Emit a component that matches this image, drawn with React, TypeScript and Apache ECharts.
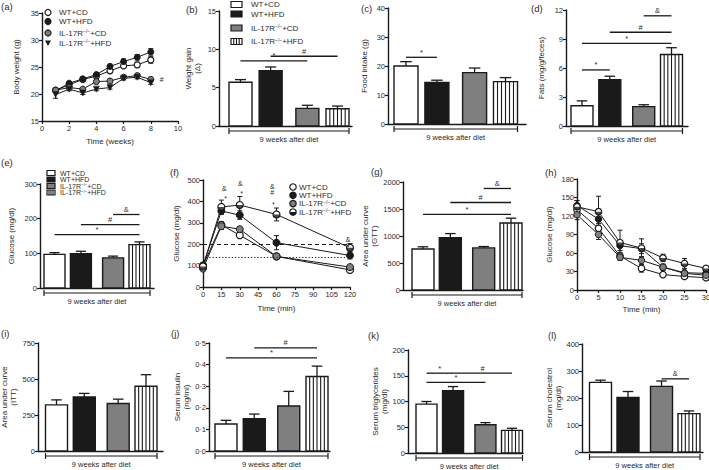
import React, { useEffect, useRef } from 'react';
import * as echarts from 'echarts';

const FONT = '"Liberation Sans", Arial, Helvetica, sans-serif';
const INK = '#1a1a1a';
const TXT = '#2a2a2a';
const GREY = '#7f7f7f';

const GROUPS = ['WT+CD', 'WT+HFD', 'IL-17R−/−+CD', 'IL-17R−/−+HFD'];
const BRACKET_LABEL = '9 weeks after diet';

// (a) body weight
const A_WEEKS = [1, 2, 3, 4, 5, 6, 7, 8];
const A_WT_CD = [20.7, 21.7, 22.7, 23.3, 24.3, 25.2, 25.4, 26.3];
const A_WT_CD_ERR = [0.3, 0.3, 0.3, 0.4, 0.4, 0.4, 0.5, 0.6];
const A_WT_HFD = [20.6, 22.0, 22.8, 23.6, 25.1, 26.0, 26.8, 27.8];
const A_WT_HFD_ERR = [0.3, 0.3, 0.3, 0.3, 0.4, 0.5, 0.5, 0.6];
const A_KO_CD = [20.7, 21.2, 20.9, 22.3, 22.4, 23.1, 23.4, 22.7];
const A_KO_CD_ERR = [0.3, 0.3, 0.3, 0.4, 0.4, 0.3, 0.3, 0.4];
const A_KO_HFD = [19.9, 20.9, 20.2, 20.9, 21.2, 22.9, 23.1, 22.1];
const A_KO_HFD_ERR = [0.7, 0.3, 0.3, 0.3, 0.3, 0.3, 0.3, 0.3];
const A_MARK = [[8.65, 22.6, '#']];

// bar panels: values, errors, significance [from, to, y, label]
const B_VALUES = [5.7, 7.2, 2.3, 2.25];
const B_ERR = [0.35, 0.5, 0.4, 0.35];
const B_SIG = [[0, 2, 8.5, '*'], [1, 3, 9.1, '#']];

const C_VALUES = [20.0, 14.3, 17.7, 14.6];
const C_ERR = [1.5, 0.8, 1.6, 1.4];
const C_SIG = [[0, 1, 23, '*']];

const D_VALUES = [2.1, 4.8, 2.0, 7.4];
const D_ERR = [0.5, 0.35, 0.2, 0.7];
const D_SIG = [[0, 1, 5.8, '*'], [0, 3, 8.55, '*'], [1, 3, 9.7, '#'], [2, 3, 11.4, '&']];

const E_VALUES = [97, 99, 87, 125];
const E_ERR = [5, 7, 5, 8];
const E_SIG = [[0, 3, 154, '*'], [1, 3, 183, '#'], [2, 3, 212, '&']];

// (f) GTT
const F_TIME = [0, 15, 30, 60, 120];
const F_WT_CD = [100, 290, 242, 143, 80];
const F_WT_CD_ERR = [8, 15, 12, 8, 8];
const F_WT_HFD = [100, 355, 336, 207, 147];
const F_WT_HFD_ERR = [8, 15, 20, 33, 15];
const F_KO_CD = [86, 284, 270, 143, 93];
const F_KO_CD_ERR = [8, 15, 12, 8, 8];
const F_KO_HFD = [96, 374, 383, 339, 183];
const F_KO_HFD_ERR = [8, 32, 40, 30, 20];
const F_MARKS = [
  [17.5, 462, '&'], [18.5, 413, '*'],
  [30.5, 484, '&'], [31.5, 439, '*'],
  [56.5, 468, '&'], [56.5, 440, '#'], [57.5, 385, '*'],
  [118.5, 220, '&'], [118.5, 183, '*'],
];
const F_LIMITS = [200, 140];

const G_VALUES = [760, 970, 780, 1240];
const G_ERR = [40, 75, 25, 90];
const G_SIG = [[0, 3, 1400, '*'], [1, 3, 1620, '#'], [2, 3, 1880, '&']];

// (h) ITT
const H_TIME = [0, 5, 10, 15, 20, 25, 30];
const H_WT_CD = [130, 100, 55, 35, 25, 22, 20];
const H_WT_CD_ERR = [10, 8, 6, 6, 3, 3, 3];
const H_WT_HFD = [137, 115, 72, 67, 37, 28, 27];
const H_WT_HFD_ERR = [8, 10, 8, 8, 5, 4, 3];
const H_KO_CD = [122, 90, 53, 48, 37, 27, 24];
const H_KO_CD_ERR = [8, 8, 5, 6, 4, 3, 3];
const H_KO_HFD = [135, 127, 77, 68, 52, 43, 35];
const H_KO_HFD_ERR = [10, 25, 20, 15, 6, 8, 3];

const I_VALUES = [320, 375, 330, 450];
const I_ERR = [35, 25, 30, 80];
const I_SIG: any[] = [];

const J_VALUES = [0.125, 0.15, 0.208, 0.345];
const J_ERR = [0.017, 0.021, 0.068, 0.048];
const J_SIG = [[0, 3, 0.431, '*'], [1, 3, 0.477, '#']];

const K_VALUES = [95, 121, 55, 44];
const K_ERR = [5, 8, 4, 4];
const K_SIG = [[0, 1, 155, '*'], [1, 3, 155, '#'], [0, 2, 137, '*']];

const L_VALUES = [258, 202, 243, 142];
const L_ERR = [8, 22, 20, 10];
const L_SIG = [[2, 3, 271, '&']];

// layout: bar slot positions (gap between genotypes)
const SLOT = [0, 1, 2.22, 3.22];

function barRender(barW: number) {
  return (params: any, api: any) => {
    const i = params.dataIndex;
    const x = api.value(0);
    const v = api.value(1);
    const e = api.value(2);
    const base = api.coord([x, 0]);
    const top = api.coord([x, v]);
    const hi = api.coord([x, v + e]);
    const left = base[0] - barW / 2;
    const fills = ['#ffffff', INK, GREY, '#ffffff'];
    const ch: any[] = [];
    ch.push({ type: 'line', shape: { x1: base[0], y1: top[1], x2: base[0], y2: hi[1] }, style: { stroke: INK, lineWidth: 1.3 } });
    ch.push({ type: 'line', shape: { x1: base[0] - barW * 0.24, y1: hi[1], x2: base[0] + barW * 0.24, y2: hi[1] }, style: { stroke: INK, lineWidth: 1.3 } });
    ch.push({ type: 'rect', shape: { x: left, y: top[1], width: barW, height: base[1] - top[1] }, style: { fill: fills[i], stroke: INK, lineWidth: 1.4 } });
    if (i === 3) {
      const n = 5;
      const step = barW / (n + 1);
      for (let k = 1; k <= n; k++) {
        const sx = left + step * k;
        ch.push({ type: 'line', shape: { x1: sx, y1: top[1], x2: sx, y2: base[1] }, style: { stroke: INK, lineWidth: 1.1 } });
      }
    }
    return { type: 'group', children: ch };
  };
}

function sigRender(sig: any[]) {
  return (params: any, api: any) => {
    const p1 = api.coord([api.value(0), api.value(2)]);
    const p2 = api.coord([api.value(1), api.value(2)]);
    return {
      type: 'group',
      children: [
        { type: 'line', shape: { x1: p1[0], y1: p1[1], x2: p2[0], y2: p2[1] }, style: { stroke: INK, lineWidth: 1.3 } },
        {
          type: 'text', x: (p1[0] + p2[0]) / 2, y: p1[1] - 1,
          style: { text: String(sig[params.dataIndex][3]), fill: TXT, fontSize: 7.5, fontFamily: FONT, align: 'center', verticalAlign: 'bottom' },
        },
      ],
    };
  };
}

function bracketRender(barW: number) {
  return (params: any, api: any) => {
    const p1 = api.coord([api.value(0), 0]);
    const p2 = api.coord([api.value(1), 0]);
    const xl = p1[0] - barW / 2;
    const xr = p2[0] + barW / 2;
    const y = p1[1] + 5;
    const st = { stroke: INK, lineWidth: 1.2 };
    return {
      type: 'group',
      children: [
        { type: 'line', shape: { x1: xl, y1: y, x2: xr, y2: y }, style: st },
        { type: 'line', shape: { x1: xl, y1: y - 3, x2: xl, y2: y + 3 }, style: st },
        { type: 'line', shape: { x1: xr, y1: y - 3, x2: xr, y2: y + 3 }, style: st },
        {
          type: 'text', x: (xl + xr) / 2, y: y + 8,
          style: { text: BRACKET_LABEL, fill: TXT, fontSize: 7.5, fontFamily: FONT, align: 'center', verticalAlign: 'middle' },
        },
      ],
    };
  };
}

function errRender(params: any, api: any) {
  const x = api.value(0);
  const y = api.value(1);
  const e = api.value(2);
  const lo = api.coord([x, y - e]);
  const hi = api.coord([x, y + e]);
  const c = 2.5;
  const st = { stroke: INK, lineWidth: 1 };
  return {
    type: 'group',
    children: [
      { type: 'line', shape: { x1: lo[0], y1: lo[1], x2: hi[0], y2: hi[1] }, style: st },
      { type: 'line', shape: { x1: hi[0] - c, y1: hi[1], x2: hi[0] + c, y2: hi[1] }, style: st },
      { type: 'line', shape: { x1: lo[0] - c, y1: lo[1], x2: lo[0] + c, y2: lo[1] }, style: st },
    ],
  };
}

function markRender(marks: any[], align: string) {
  return (params: any, api: any) => {
    const p = api.coord([api.value(0), api.value(1)]);
    return {
      type: 'text', x: p[0], y: p[1],
      style: { text: String(marks[params.dataIndex][2]), fill: TXT, fontSize: 7, fontFamily: FONT, align, verticalAlign: 'middle' },
    };
  };
}

const axisLineCfg = { show: true, onZero: false, lineStyle: { color: INK, width: 1.4 } };
const axisTickCfg = { show: true, length: 3, inside: false, lineStyle: { color: INK, width: 1.2 } };
const nameStyle = { fontSize: 8, color: TXT, fontFamily: FONT, lineHeight: 9 };
const plain = (v: number) => String(v);
const labelCfg = (fmt?: any) => ({ fontSize: 7.5, color: TXT, fontFamily: FONT, margin: 3, formatter: fmt || plain });

function yAxisCfg(gi: number, min: number, max: number, interval: number, name: string, gap: number, fmt?: any) {
  return {
    type: 'value', gridIndex: gi, min, max, interval, name, nameLocation: 'middle', nameGap: gap, nameRotate: 90,
    nameTextStyle: nameStyle, axisLine: axisLineCfg, axisTick: axisTickCfg, axisLabel: labelCfg(fmt), splitLine: { show: false },
  };
}

function buildOption() {
  const grids: any[] = [];
  const xAxes: any[] = [];
  const yAxes: any[] = [];
  const series: any[] = [];

  const addGrid = (L: any) => {
    grids.push({ left: L.left, top: L.top, width: L.right - L.left, height: L.bottom - L.top, containLabel: false, outerBoundsMode: 'none' });
    return grids.length - 1;
  };

  const addBar = (cfg: any) => {
    const L = cfg.L;
    const gi = addGrid(L);
    const span = SLOT[3] - SLOT[0];
    const u = (L.last - L.first) / span;
    const min = SLOT[0] - (L.first - L.left) / u;
    const max = SLOT[3] + (L.right - L.last) / u;
    xAxes.push({ type: 'value', gridIndex: gi, min, max, axisLine: axisLineCfg, axisTick: { show: false }, axisLabel: { show: false }, splitLine: { show: false } });
    yAxes.push(yAxisCfg(gi, 0, cfg.max, cfg.interval, cfg.name, cfg.gap, cfg.fmt));
    series.push({
      type: 'custom', xAxisIndex: gi, yAxisIndex: gi, z: 3,
      data: cfg.values.map((v: number, i: number) => [SLOT[i], v, cfg.errors[i]]),
      encode: { x: 0, y: 1 }, renderItem: barRender(L.barW),
    });
    if (cfg.sig.length) {
      series.push({
        type: 'custom', xAxisIndex: gi, yAxisIndex: gi, z: 4,
        data: cfg.sig.map((s: any) => [SLOT[s[0]], SLOT[s[1]], s[2]]),
        encode: { x: [0, 1], y: 2 }, renderItem: sigRender(cfg.sig),
      });
    }
    series.push({
      type: 'custom', xAxisIndex: gi, yAxisIndex: gi, z: 4,
      data: [[SLOT[0], SLOT[3], 0]], encode: { x: [0, 1], y: 2 }, renderItem: bracketRender(L.barW),
    });
  };

  const symStyle: any = {
    open: { symbol: 'circle', itemStyle: { color: '#ffffff', borderColor: INK, borderWidth: 1.2 } },
    black: { symbol: 'circle', itemStyle: { color: INK, borderColor: INK, borderWidth: 1 } },
    grey: { symbol: 'circle', itemStyle: { color: GREY, borderColor: INK, borderWidth: 1 } },
    tri: { symbol: 'triangle', symbolRotate: 180, itemStyle: { color: INK, borderColor: INK, borderWidth: 0.5 } },
    half: { symbol: 'circle', itemStyle: { color: '#ffffff', borderColor: INK, borderWidth: 1.2 } },
  };

  const addLine = (cfg: any) => {
    const L = cfg.L;
    const gi = addGrid(L);
    xAxes.push({
      type: 'value', gridIndex: gi, min: cfg.x.min, max: cfg.x.max, interval: cfg.x.interval,
      name: cfg.x.name, nameLocation: 'middle', nameGap: cfg.x.gap, nameTextStyle: nameStyle,
      axisLine: axisLineCfg, axisTick: axisTickCfg, axisLabel: labelCfg(), splitLine: { show: false },
    });
    yAxes.push(yAxisCfg(gi, cfg.y.min, cfg.y.max, cfg.y.interval, cfg.y.name, cfg.y.gap));
    cfg.series.forEach((s: any, k: number) => {
      const pts = s.x.map((x: number, i: number) => [x, s.y[i]]);
      series.push({
        type: 'custom', xAxisIndex: gi, yAxisIndex: gi, z: 2,
        data: s.x.map((x: number, i: number) => [x, s.y[i], s.err[i]]),
        encode: { x: 0, y: 1 }, renderItem: errRender,
      });
      const st = symStyle[s.sym];
      const line: any = {
        type: 'line', name: GROUPS[k], xAxisIndex: gi, yAxisIndex: gi, z: 3, data: pts,
        symbol: st.symbol, symbolRotate: st.symbolRotate || 0, symbolSize: cfg.size,
        showSymbol: true, showAllSymbol: true, itemStyle: st.itemStyle,
        lineStyle: { color: INK, width: 1 }, emphasis: { disabled: true },
      };
      if (k === 0 && cfg.limits) {
        line.markLine = {
          silent: true, symbol: ['none', 'none'], label: { show: false },
          data: [
            { yAxis: cfg.limits[0], lineStyle: { color: INK, width: 1.1, type: [4, 3] } },
            { yAxis: cfg.limits[1], lineStyle: { color: INK, width: 1, type: [1.2, 2] } },
          ],
        };
      }
      series.push(line);
      if (s.sym === 'half') {
        series.push({
          type: 'scatter', xAxisIndex: gi, yAxisIndex: gi, z: 4, data: pts, silent: true,
          symbol: 'path://M0,0A10,10 0 0 0 20,0Z', symbolSize: [cfg.size, cfg.size / 2], symbolOffset: [0, cfg.size / 4],
          itemStyle: { color: INK },
        });
      }
    });
    if (cfg.marks) {
      series.push({
        type: 'custom', xAxisIndex: gi, yAxisIndex: gi, z: 5,
        data: cfg.marks.map((m: any) => [m[0], m[1]]), encode: { x: 0, y: 1 },
        renderItem: markRender(cfg.marks, cfg.markAlign || 'center'),
      });
    }
  };

  // (a)
  addLine({
    L: { left: 42, right: 178, top: 13, bottom: 121 }, size: 6,
    x: { min: 0, max: 10, interval: 2, name: 'Time (weeks)', gap: 16 },
    y: { min: 15, max: 35, interval: 5, name: 'Body weight (g)', gap: 21 },
    series: [
      { x: A_WEEKS, y: A_WT_CD, err: A_WT_CD_ERR, sym: 'open' },
      { x: A_WEEKS, y: A_WT_HFD, err: A_WT_HFD_ERR, sym: 'black' },
      { x: A_WEEKS, y: A_KO_CD, err: A_KO_CD_ERR, sym: 'grey' },
      { x: A_WEEKS, y: A_KO_HFD, err: A_KO_HFD_ERR, sym: 'tri' },
    ],
    marks: A_MARK, markAlign: 'left',
  });
  // (b)
  addBar({ L: { left: 219, right: 352, top: 11, bottom: 126, first: 240.5, last: 337.5, barW: 23 }, values: B_VALUES, errors: B_ERR, sig: B_SIG, max: 15, interval: 5, name: 'Weight gain\n(Δ)', gap: 17 });
  // (c)
  addBar({ L: { left: 388, right: 526, top: 8, bottom: 124, first: 406, last: 505.5, barW: 24 }, values: C_VALUES, errors: C_ERR, sig: C_SIG, max: 40, interval: 10, name: 'Food intake (g)', gap: 19 });
  // (d)
  addBar({ L: { left: 566, right: 688, top: 10, bottom: 126, first: 582, last: 671.5, barW: 22 }, values: D_VALUES, errors: D_ERR, sig: D_SIG, max: 12, interval: 3, name: 'Fats (mg/g/feces)', gap: 20 });
  // (e)
  addBar({ L: { left: 40, right: 154, top: 184, bottom: 288, first: 54.5, last: 139.5, barW: 21 }, values: E_VALUES, errors: E_ERR, sig: E_SIG, max: 300, interval: 100, name: 'Glucose (mg/dl)', gap: 24 });
  // (f)
  addLine({
    L: { left: 203, right: 350, top: 180, bottom: 287 }, size: 7,
    x: { min: 0, max: 120, interval: 15, name: 'Time (min)', gap: 17 },
    y: { min: 0, max: 500, interval: 100, name: 'Glucose (mg/dl)', gap: 22 },
    series: [
      { x: F_TIME, y: F_WT_CD, err: F_WT_CD_ERR, sym: 'open' },
      { x: F_TIME, y: F_WT_HFD, err: F_WT_HFD_ERR, sym: 'black' },
      { x: F_TIME, y: F_KO_CD, err: F_KO_CD_ERR, sym: 'grey' },
      { x: F_TIME, y: F_KO_HFD, err: F_KO_HFD_ERR, sym: 'half' },
    ],
    limits: F_LIMITS, marks: F_MARKS,
  });
  // (g)
  addBar({ L: { left: 403, right: 523, top: 182, bottom: 290, first: 423, last: 511, barW: 22 }, values: G_VALUES, errors: G_ERR, sig: G_SIG, max: 2000, interval: 500, name: 'Area under curve\n(GTT)', gap: 21 });
  // (h)
  addLine({
    L: { left: 577, right: 706, top: 179, bottom: 290 }, size: 6.5,
    x: { min: 0, max: 30, interval: 5, name: 'Time (min)', gap: 15 },
    y: { min: 0, max: 180, interval: 30, name: 'Glucose (mg/dl)', gap: 23 },
    series: [
      { x: H_TIME, y: H_WT_CD, err: H_WT_CD_ERR, sym: 'open' },
      { x: H_TIME, y: H_WT_HFD, err: H_WT_HFD_ERR, sym: 'black' },
      { x: H_TIME, y: H_KO_CD, err: H_KO_CD_ERR, sym: 'grey' },
      { x: H_TIME, y: H_KO_HFD, err: H_KO_HFD_ERR, sym: 'half' },
    ],
  });
  // (i)
  addBar({ L: { left: 38, right: 163, top: 343, bottom: 451, first: 56.5, last: 146, barW: 22 }, values: I_VALUES, errors: I_ERR, sig: I_SIG, max: 750, interval: 250, name: 'Area under curve\n(ITT)', gap: 20 });
  // (j)
  addBar({ L: { left: 209, right: 330, top: 343, bottom: 451, first: 226, last: 317, barW: 22 }, values: J_VALUES, errors: J_ERR, sig: J_SIG, max: 0.5, interval: 0.1, name: 'Serum insulin\n(ng/ml)', gap: 17, fmt: (v: number) => v.toFixed(1).replace('.', '·') });
  // (k)
  addBar({ L: { left: 408, right: 523, top: 350, bottom: 453, first: 426.5, last: 512, barW: 21 }, values: K_VALUES, errors: K_ERR, sig: K_SIG, max: 200, interval: 50, name: 'Serum triglycerides\n(mg/dl)', gap: 18 });
  // (l)
  addBar({ L: { left: 582, right: 703, top: 344, bottom: 452, first: 600.5, last: 689, barW: 22 }, values: L_VALUES, errors: L_ERR, sig: L_SIG, max: 400, interval: 100, name: 'Serum cholestrol\n(mg/dl)', gap: 19 });

  // graphics: panel labels and legends
  const el: any[] = [];
  const txt = (x: number, y: number, text: string, size: number, va = 'middle', rich = true) => {
    el.push({
      type: 'text', x, y, silent: true,
      style: {
        text, fill: TXT, fontSize: size, fontFamily: FONT, align: 'left', verticalAlign: va,
        rich: rich ? { s: { fontSize: size * 0.62, fontFamily: FONT, fill: TXT, verticalAlign: 'top', lineHeight: size } } : undefined,
      },
    });
  };
  const LABELS: [string, number, number][] = [
    ['(a)', 1, 1], ['(b)', 186, 4], ['(c)', 361, 3], ['(d)', 531, 3],
    ['(e)', 1, 157], ['(f)', 170, 167], ['(g)', 371, 166], ['(h)', 545, 167],
    ['(i)', 1, 328], ['(j)', 171, 328], ['(k)', 368, 330], ['(l)', 548, 330],
  ];
  LABELS.forEach(([t, x, y]) => txt(x, y, t, 9.5, 'top', false));

  const legendText = (k: number) => GROUPS[k].replace('−/−', '{s|−/−}');

  const sym = (kind: string, x: number, y: number, r: number) => {
    if (kind === 'tri') {
      el.push({ type: 'polygon', silent: true, shape: { points: [[x - r, y - r * 0.85], [x + r, y - r * 0.85], [x, y + r]] }, style: { fill: INK } });
      return;
    }
    const fill = kind === 'black' ? INK : kind === 'grey' ? GREY : '#ffffff';
    el.push({ type: 'circle', silent: true, shape: { cx: x, cy: y, r }, style: { fill, stroke: INK, lineWidth: 1.2 } });
    if (kind === 'half') {
      el.push({ type: 'sector', silent: true, shape: { cx: x, cy: y, r, r0: 0, startAngle: 0, endAngle: Math.PI, clockwise: true }, style: { fill: INK } });
    }
  };
  const box = (k: number, x: number, y: number, w: number, h: number) => {
    const fills = ['#ffffff', INK, GREY, '#ffffff'];
    el.push({ type: 'rect', silent: true, shape: { x, y: y - h / 2, width: w, height: h }, style: { fill: fills[k], stroke: INK, lineWidth: 1.2 } });
    if (k === 3) {
      for (let j = 1; j <= 3; j++) {
        const sx = x + (w / 4) * j;
        el.push({ type: 'line', silent: true, shape: { x1: sx, y1: y - h / 2, x2: sx, y2: y + h / 2 }, style: { stroke: INK, lineWidth: 1.1 } });
      }
    }
  };

  // legend (a)
  const aKinds = ['open', 'black', 'grey', 'tri'];
  [12.5, 21.5, 33, 43].forEach((y, k) => { sym(aKinds[k], 48, y, 3); txt(59, y, legendText(k), 8); });
  // legend (b)
  [4.5, 14, 28, 41.5].forEach((y, k) => { box(k, 231, y, 11, 6); txt(251, y, legendText(k), 8); });
  // legend (e)
  [173, 179.5, 186, 192.5].forEach((y, k) => { box(k, 47, y, 8, 5); txt(60, y, legendText(k), 7); });
  // legend (f)
  const fKinds = ['open', 'black', 'grey', 'half'];
  [187, 195.3, 203.6, 212].forEach((y, k) => { sym(fKinds[k], 293, y, 3.2); txt(299, y, legendText(k), 8); });

  return {
    animation: false,
    backgroundColor: '#ffffff',
    textStyle: { fontFamily: FONT },
    grid: grids,
    xAxis: xAxes,
    yAxis: yAxes,
    series,
    graphic: { elements: el },
  };
}

export default function App() {
  const ref = useRef<HTMLDivElement>(null);
  useEffect(() => {
    const chart = echarts.init(ref.current as HTMLDivElement, undefined, { renderer: 'svg' });
    chart.setOption(buildOption() as any);
    return () => chart.dispose();
  }, []);
  return <div ref={ref} style={{ position: 'fixed', left: 0, top: 0, width: 709, height: 470, background: '#ffffff' }} />;
}
